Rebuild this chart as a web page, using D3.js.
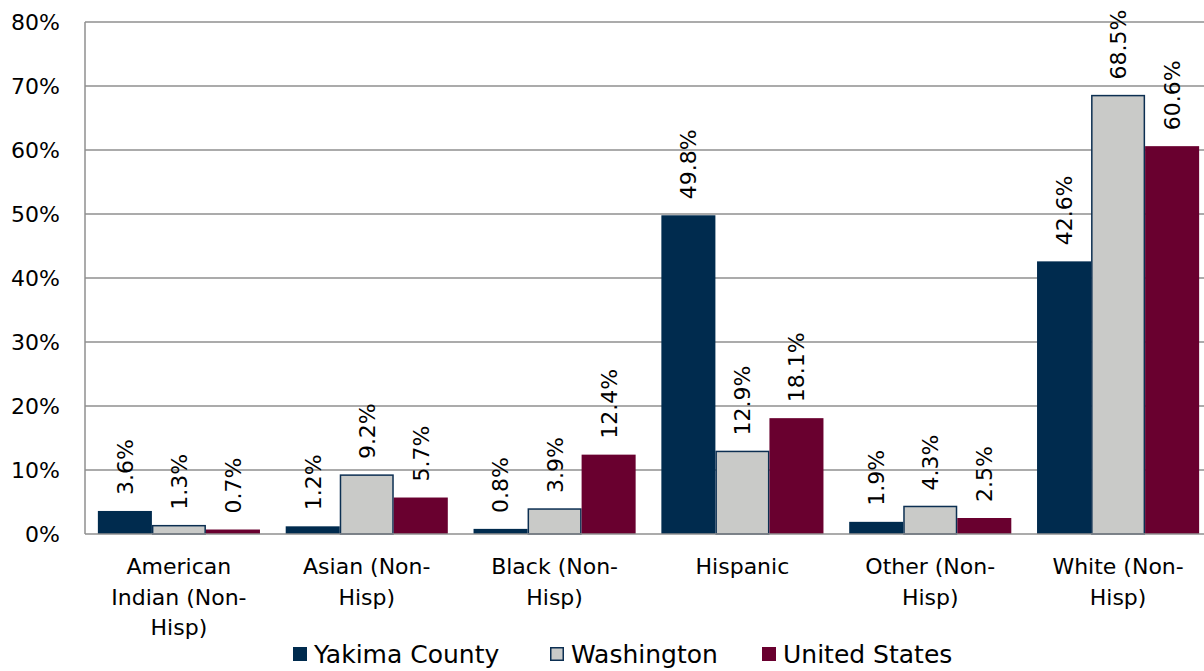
<!DOCTYPE html>
<html>
<head>
<meta charset="utf-8">
<script src="https://cdn.jsdelivr.net/npm/d3@7"></script>
<style>
  html, body { margin: 0; padding: 0; background: #fff; }
  svg { display: block; font-family: "DejaVu Sans", sans-serif; }
</style>
</head>
<body>
<svg id="chart" width="1204" height="671"></svg>
<script>
// Race / ethnicity shares by geography (percent of population)
const categories = [
  ["American", "Indian (Non-", "Hisp)"],
  ["Asian (Non-", "Hisp)"],
  ["Black (Non-", "Hisp)"],
  ["Hispanic"],
  ["Other (Non-", "Hisp)"],
  ["White (Non-", "Hisp)"]
];
const seriesNames = ["Yakima County", "Washington", "United States"];
const yakima     = [3.6, 1.2, 0.8, 49.8, 1.9, 42.6];
const washington = [1.3, 9.2, 3.9, 12.9, 4.3, 68.5];
const unitedStates = [0.7, 5.7, 12.4, 18.1, 2.5, 60.6];
const yTicks = [0, 10, 20, 30, 40, 50, 60, 70, 80];

const seriesValues = [yakima, washington, unitedStates];
const fills = ["#002b4e", "#c9cac8", "#69002f"];
const strokes = [null, "#0c2f52", null];

const svg = d3.select("#chart");
const plotLeft = 85, plotRight = 1212, plotTop = 22, plotBottom = 534;

const x0 = d3.scaleBand().domain(d3.range(categories.length)).range([plotLeft, plotRight]).padding(0);
const bw = x0.bandwidth();
const x1 = d3.scaleBand().domain(d3.range(seriesNames.length)).range([bw * 0.0685, bw * 0.9315]).padding(0);
const y = d3.scaleLinear().domain([0, 80]).range([plotBottom, plotTop]);

// gridlines
svg.append("g").selectAll("line").data(yTicks.filter(t => t > 0)).join("line")
  .attr("x1", plotLeft).attr("x2", plotRight)
  .attr("y1", d => y(d)).attr("y2", d => y(d))
  .attr("stroke", "#8f8f8f").attr("stroke-width", 1.5);

// y axis labels
const yAxis = d3.axisLeft(y).tickValues(yTicks).tickFormat(d => d + "%").tickSize(0).tickPadding(25);
const ga = svg.append("g").attr("transform", `translate(${plotLeft},0)`).call(yAxis);
ga.select(".domain").remove();
ga.selectAll("text").attr("font-size", 22).attr("fill", "#000")
  .attr("font-family", "DejaVu Sans, sans-serif");

// bars
const groups = svg.append("g").selectAll("g").data(seriesValues).join("g");
groups.each(function(vals, si) {
  const g = d3.select(this);
  g.selectAll("rect").data(vals).join("rect")
    .attr("x", (d, i) => x0(i) + x1(si) + (strokes[si] ? 0.75 : 0))
    .attr("width", x1.bandwidth() - (strokes[si] ? 1.5 : 0))
    .attr("y", d => y(d))
    .attr("height", d => plotBottom - y(d))
    .attr("fill", fills[si])
    .attr("stroke", strokes[si] || "none")
    .attr("stroke-width", strokes[si] ? 1.5 : 0);
  g.selectAll("text").data(vals).join("text")
    .attr("transform", (d, i) => `translate(${x0(i) + x1(si) + x1.bandwidth() / 2},${y(d) - 16}) rotate(-90)`)
    .attr("dy", "0.36em")
    .attr("text-anchor", "start")
    .attr("font-size", 22)
    .attr("fill", "#000")
    .text(d => d.toFixed(1) + "%");
});

// axis lines
svg.append("line").attr("x1", plotLeft).attr("x2", plotLeft).attr("y1", plotTop).attr("y2", plotBottom)
  .attr("stroke", "#8f8f8f").attr("stroke-width", 1.5);
svg.append("line").attr("x1", plotLeft).attr("x2", plotRight).attr("y1", plotBottom).attr("y2", plotBottom)
  .attr("stroke", "#8f8f8f").attr("stroke-width", 1.5);

// category labels
const cat = svg.append("g").selectAll("text").data(categories).join("text")
  .attr("x", (d, i) => x0(i) + bw / 2)
  .attr("y", 574)
  .attr("text-anchor", "middle")
  .attr("font-size", 22)
  .attr("fill", "#000");
cat.selectAll("tspan").data(d => d).join("tspan")
  .attr("x", function() { return d3.select(this.parentNode).attr("x"); })
  .attr("dy", (d, i) => i === 0 ? 0 : 30.5)
  .text(d => d);

// legend
const legendX = [293, 550, 762];
const lg = svg.append("g").selectAll("g").data(seriesNames).join("g")
  .attr("transform", (d, i) => `translate(${legendX[i]},0)`);
lg.append("rect")
  .attr("x", (d, i) => strokes[i] ? 0.75 : 0)
  .attr("y", (d, i) => 647 + (strokes[i] ? 0.75 : 0))
  .attr("width", (d, i) => strokes[i] ? 12.5 : 14)
  .attr("height", (d, i) => strokes[i] ? 12.5 : 14)
  .attr("fill", (d, i) => fills[i])
  .attr("stroke", (d, i) => strokes[i] || "none")
  .attr("stroke-width", 1.5);
lg.append("text")
  .attr("x", 21).attr("y", 663)
  .attr("font-size", 25)
  .attr("fill", "#000")
  .text(d => d);
</script>
</body>
</html>
